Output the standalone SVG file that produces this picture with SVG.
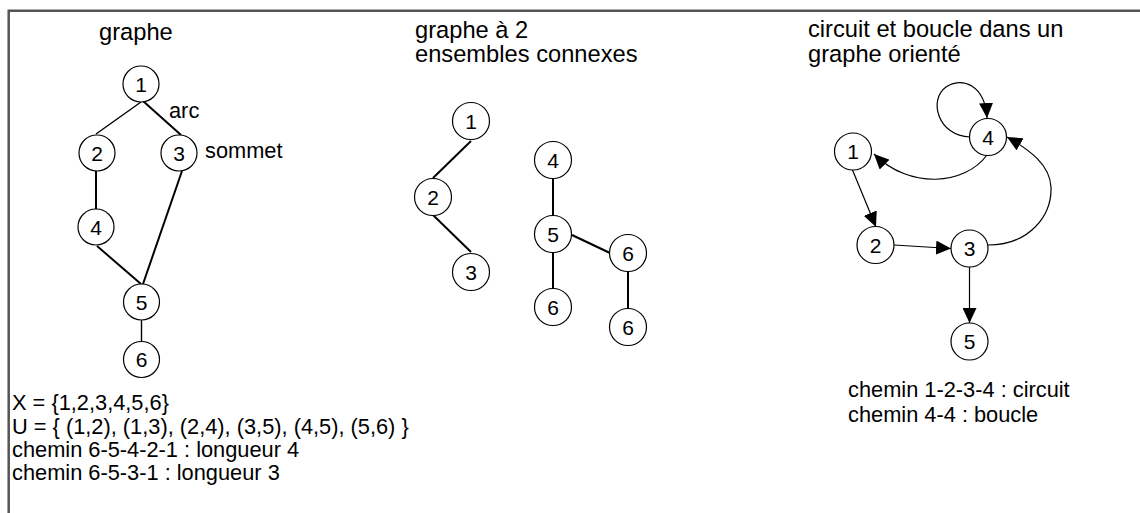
<svg xmlns="http://www.w3.org/2000/svg" width="1140" height="513" viewBox="0 0 1140 513">
<style>
text{font-family:"Liberation Sans",Arial,sans-serif;fill:#000}
.t{font-size:23.7px}
.b{font-size:21.8px}
.n circle{fill:#fff;stroke:#000;stroke-width:1.2}
.n text{font-size:21px;text-anchor:middle}
.e{stroke:#000;stroke-width:1.4;fill:none}
.e2{stroke:#000;stroke-width:2;fill:none}
.a{stroke:#000;stroke-width:1.2;fill:none;marker-end:url(#ah)}
</style>
<defs>
<marker id="ah" markerUnits="userSpaceOnUse" viewBox="0 0 15 14" markerWidth="15" markerHeight="14" refX="15" refY="7" orient="auto">
<path d="M0,0 L15,7 L0,14 z" fill="#000"/>
</marker>
</defs>
<rect width="1140" height="513" fill="#fff"/>
<path d="M8.7,513 V10.7 H1140" fill="none" stroke="#555" stroke-width="2.5"/>

<g id="titles">
<text class="t" x="99" y="40">graphe</text>
<text class="t" x="415" y="38">graphe à 2</text>
<text class="t" x="415" y="62">ensembles connexes</text>
<text class="t" x="808" y="37">circuit et boucle dans un</text>
<text class="t" x="808" y="62">graphe orienté</text>
</g>

<g id="connectors">
<line class="e" x1="141" y1="102" x2="96" y2="134"/>
<line class="e2" x1="143" y1="101" x2="181" y2="135"/>
<line class="e2" x1="96" y1="171" x2="96" y2="209"/>
<line class="e2" x1="182" y1="171" x2="143" y2="284"/>
<line class="e2" x1="97" y1="246" x2="141" y2="284"/>
<line class="e" x1="141.5" y1="320" x2="141.5" y2="341"/>
<line class="e2" x1="471" y1="141" x2="433" y2="178"/>
<line class="e2" x1="433" y1="215" x2="471" y2="252"/>
<line class="e2" x1="553" y1="178" x2="553" y2="215"/>
<line class="e2" x1="572" y1="235" x2="610" y2="253"/>
<line class="e2" x1="553" y1="252" x2="553" y2="289"/>
<line class="e2" x1="628" y1="272" x2="628" y2="309"/>
<path class="a" d="M852.5,170 L876,227"/>
<path class="a" d="M894,245 L951,248.5"/>
<path class="a" d="M969.5,267 L969.5,323"/>
<path class="a" d="M988,245 C1030,245 1052,215 1051,187 C1050,165 1030,150 1007,137"/>
<path class="a" d="M987,155 C965,185 910,190 874,154"/>
<path class="a" d="M970,137 C938,136 928,100 946,87 C962,76 985,85 987,118"/>
</g>

<g id="l1" class="n"><circle cx="141" cy="84" r="18"/><text x="141" y="91.5">1</text></g>
<g id="l2" class="n"><circle cx="97" cy="153" r="18"/><text x="97" y="160.5">2</text></g>
<g id="l3" class="n"><circle cx="179" cy="153" r="18"/><text x="179" y="160.5">3</text></g>
<g id="l4" class="n"><circle cx="96" cy="227" r="18"/><text x="96" y="234.5">4</text></g>
<g id="l5" class="n"><circle cx="141.5" cy="302" r="18"/><text x="141.5" y="309.5">5</text></g>
<g id="l6" class="n"><circle cx="141.5" cy="359.5" r="18"/><text x="141.5" y="367">6</text></g>

<g id="m1" class="n"><circle cx="471" cy="121" r="18.5"/><text x="471" y="128.5">1</text></g>
<g id="m2" class="n"><circle cx="433" cy="197" r="18.5"/><text x="433" y="204.5">2</text></g>
<g id="m3" class="n"><circle cx="471" cy="272" r="18.5"/><text x="471" y="279.5">3</text></g>
<g id="m4" class="n"><circle cx="553" cy="160" r="18.5"/><text x="553" y="167.5">4</text></g>
<g id="m5" class="n"><circle cx="553" cy="234" r="18.5"/><text x="553" y="241.5">5</text></g>
<g id="m6a" class="n"><circle cx="628" cy="253" r="18.5"/><text x="628" y="260.5">6</text></g>
<g id="m6b" class="n"><circle cx="553" cy="307" r="18.5"/><text x="553" y="314.5">6</text></g>
<g id="m6c" class="n"><circle cx="628" cy="327" r="18.5"/><text x="628" y="334.5">6</text></g>

<g id="r1" class="n"><circle cx="853" cy="151.5" r="18.5"/><text x="853" y="159">1</text></g>
<g id="r2" class="n"><circle cx="875.5" cy="245" r="18.5"/><text x="875.5" y="252.5">2</text></g>
<g id="r3" class="n"><circle cx="969.5" cy="248.5" r="18.5"/><text x="969.5" y="256">3</text></g>
<g id="r4" class="n"><circle cx="988" cy="137" r="18.5"/><text x="988" y="144.5">4</text></g>
<g id="r5" class="n"><circle cx="969.5" cy="341.5" r="18.5"/><text x="969.5" y="349">5</text></g>

<g id="labels">
<text class="b" x="169" y="118">arc</text>
<text class="b" x="205" y="158">sommet</text>
<text class="b" x="12" y="410">X = {1,2,3,4,5,6}</text>
<text class="b" x="12" y="433.5">U = { (1,2), (1,3), (2,4), (3,5), (4,5), (5,6) }</text>
<text class="b" x="12" y="457">chemin 6-5-4-2-1 : longueur 4</text>
<text class="b" x="12" y="480">chemin 6-5-3-1 : longueur 3</text>
<text class="b" x="848" y="397">chemin 1-2-3-4 : circuit</text>
<text class="b" x="848" y="421.5">chemin 4-4 : boucle</text>
</g>
</svg>
